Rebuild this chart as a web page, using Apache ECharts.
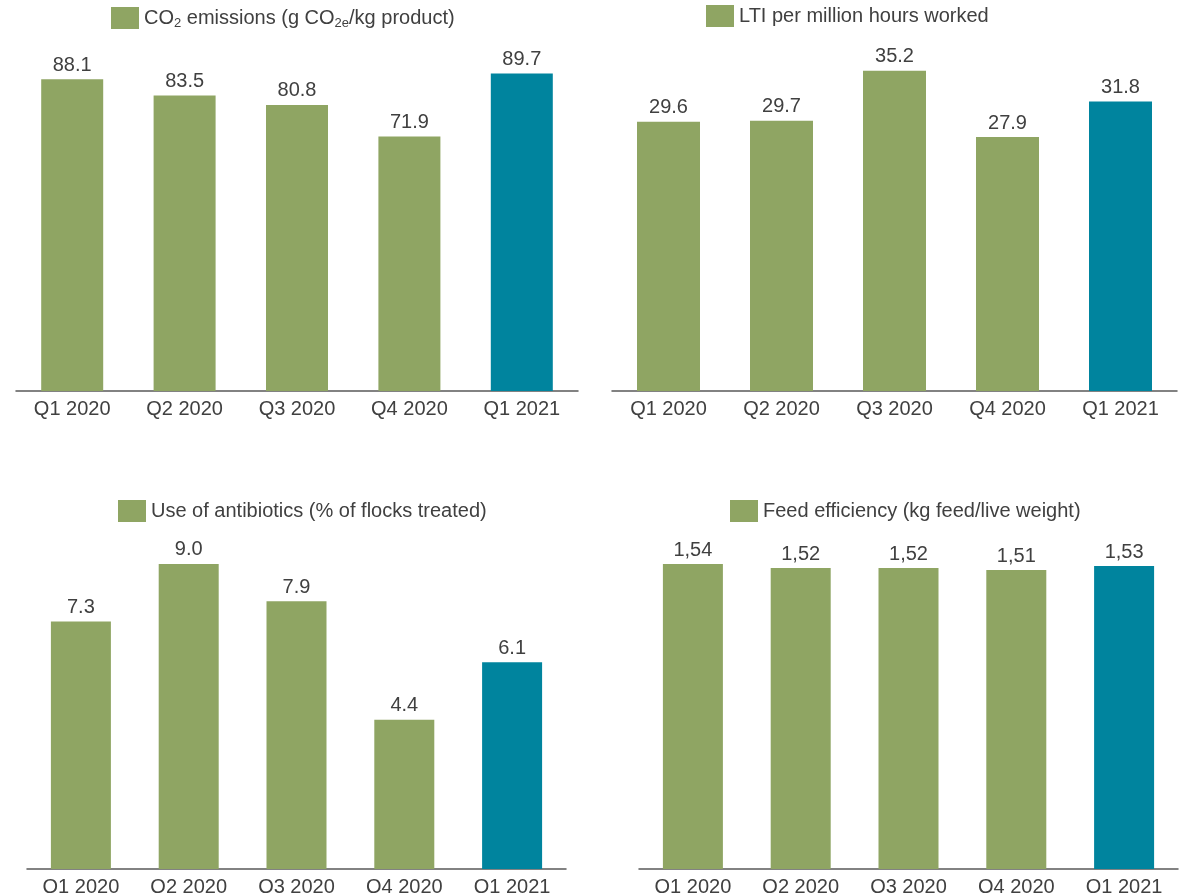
<!DOCTYPE html>
<html>
<head>
<meta charset="utf-8">
<script src="https://cdn.jsdelivr.net/npm/echarts@6/dist/echarts.min.js"></script>
<style>
  html, body { margin: 0; padding: 0; background: #fff; }
  #chart { width: 1188px; height: 893px; }
</style>
</head>
<body>
<div id="chart"></div>
<script>
// quarters shared by all four panels
const quarters = ["Q1 2020", "Q2 2020", "Q3 2020", "Q4 2020", "Q1 2021"];

// values
const co2Values = [88.1, 83.5, 80.8, 71.9, 89.7];
const ltiValues = [29.6, 29.7, 35.2, 27.9, 31.8];
const antibioticValues = [7.3, 9.0, 7.9, 4.4, 6.1];
const feedValues = [1.54, 1.52, 1.52, 1.51, 1.53];

const GREEN = "#8fa563";
const TEAL = "#00849e";
const TEXT = "#404040";
const FONT = "Liberation Sans, Arial, sans-serif";

const chart = echarts.init(document.getElementById("chart"));

// last quarter is highlighted in teal
function barData(values) {
  return values.map((v, i) =>
    i === values.length - 1 ? { value: v, itemStyle: { color: TEAL } } : v
  );
}

function xAxis(gridIndex) {
  return {
    type: "category",
    gridIndex: gridIndex,
    data: quarters,
    axisLine: { lineStyle: { color: "#595959", width: 1.5 } },
    axisTick: { show: false },
    axisLabel: { color: TEXT, fontSize: 20, fontFamily: FONT, margin: 8 },
  };
}

function yAxis(gridIndex, max) {
  return {
    type: "value",
    gridIndex: gridIndex,
    min: 0,
    max: max,
    show: false,
    splitLine: { show: false },
  };
}

function series(name, idx, values, barWidth, decimals, comma) {
  return {
    name: name,
    type: "bar",
    xAxisIndex: idx,
    yAxisIndex: idx,
    barWidth: barWidth,
    itemStyle: { color: GREEN },
    data: barData(values),
    label: {
      show: true,
      position: "top",
      distance: 4,
      color: TEXT,
      fontSize: 20,
      fontFamily: FONT,
      formatter: (p) => {
        const s = Number(p.value).toFixed(decimals);
        return comma ? s.replace(".", ",") : s;
      },
    },
  };
}

function legend(name, left, top, formatter, rich) {
  const lg = {
    data: [name],
    left: left,
    top: top,
    padding: 0,
    itemWidth: 28,
    itemHeight: 22,
    itemGap: 6,
    selectedMode: false,
    icon: "rect",
    textStyle: { color: TEXT, fontSize: 20, fontFamily: FONT },
  };
  if (formatter) {
    lg.formatter = formatter;
    lg.textStyle.rich = rich;
  }
  return lg;
}

function grid(left, right, top, bottom) {
  // labels may run past the canvas edge, like in the original
  return { left, right, top, bottom, outerBoundsMode: "none", containLabel: false };
}

const co2Name = "CO2 emissions (g CO2e/kg product)";
const ltiName = "LTI per million hours worked";
const abName = "Use of antibiotics (% of flocks treated)";
const feedName = "Feed efficiency (kg feed/live weight)";

// subscripts in the CO2 legend
const subRich = {
  t: { fontSize: 20, fontFamily: FONT, color: TEXT, lineHeight: 24 },
  s: { fontSize: 13, fontFamily: FONT, color: TEXT, lineHeight: 16, verticalAlign: "bottom" },
};

const option = {
  animation: false,
  backgroundColor: "#fff",
  grid: [
    grid(16, 610, 37, 502),
    grid(612, 11, 27, 502),
    grid(27, 622, 530, 24),
    grid(639, 10, 473, 24),
  ],
  legend: [
    legend(co2Name, 111, 7,
      () => "{t|CO}{s|2}{t| emissions (g CO}{s|2e}{t|/kg product)}", subRich),
    legend(ltiName, 706, 5),
    legend(abName, 118, 500),
    legend(feedName, 730, 500),
  ],
  xAxis: [xAxis(0), xAxis(1), xAxis(2), xAxis(3)],
  yAxis: [yAxis(0, 100), yAxis(1, 40), yAxis(2, 10), yAxis(3, 2)],
  series: [
    series(co2Name, 0, co2Values, 62, 1, false),
    series(ltiName, 1, ltiValues, 63, 1, false),
    series(abName, 2, antibioticValues, 60, 1, false),
    series(feedName, 3, feedValues, 60, 2, true),
  ],
};

chart.setOption(option);
</script>
</body>
</html>
